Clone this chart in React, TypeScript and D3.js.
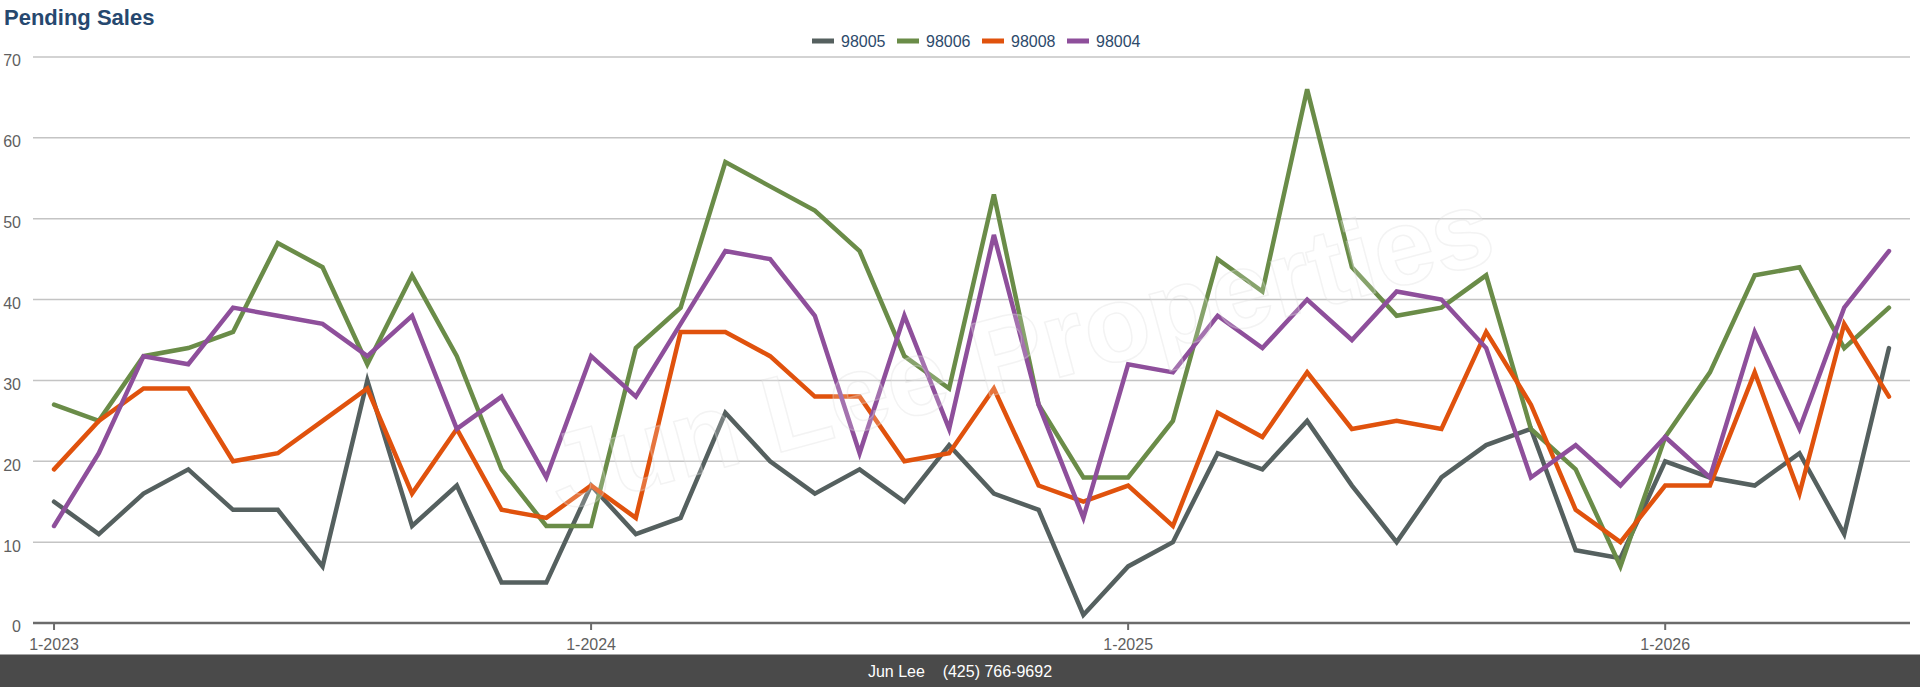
import * as d3 from 'd3';

const WIDTH = 1920;
const HEIGHT = 687;

// month categories, Jan 2023 .. Jun 2026
const MONTHS = [
  '1-2023', '2-2023', '3-2023', '4-2023', '5-2023', '6-2023', '7-2023', '8-2023', '9-2023', '10-2023', '11-2023', '12-2023',
  '1-2024', '2-2024', '3-2024', '4-2024', '5-2024', '6-2024', '7-2024', '8-2024', '9-2024', '10-2024', '11-2024', '12-2024',
  '1-2025', '2-2025', '3-2025', '4-2025', '5-2025', '6-2025', '7-2025', '8-2025', '9-2025', '10-2025', '11-2025', '12-2025',
  '1-2026', '2-2026', '3-2026', '4-2026', '5-2026', '6-2026',
];
const TICK_LABELS = ['1-2023', '1-2024', '1-2025', '1-2026'];
const Y_TICKS = [0, 10, 20, 30, 40, 50, 60, 70];

const ZIP_98005 = [
  15, 11, 16, 19, 14, 14, 7, 30, 12, 17, 5, 5,
  17, 11, 13, 26, 20, 16, 19, 15, 22, 16, 14, 1,
  7, 10, 21, 19, 25, 17, 10, 18, 22, 24, 9, 8,
  20, 18, 17, 21, 11, 34,
];
const ZIP_98006 = [
  27, 25, 33, 34, 36, 47, 44, 32, 43, 33, 19, 12,
  12, 34, 39, 57, 54, 51, 46, 33, 29, 53, 27, 18,
  18, 25, 45, 41, 66, 44, 38, 39, 43, 24, 19, 7,
  23, 31, 43, 44, 34, 39,
];
const ZIP_98008 = [
  19, 25, 29, 29, 20, 21, 25, 29, 16, 24, 14, 13,
  17, 13, 36, 36, 33, 28, 28, 20, 21, 29, 17, 15,
  17, 12, 26, 23, 31, 24, 25, 24, 36, 27, 14, 10,
  17, 17, 31, 16, 37, 28,
];
const ZIP_98004 = [
  12, 21, 33, 32, 39, 38, 37, 33, 38, 24, 28, 18,
  33, 28, 37, 46, 45, 38, 21, 38, 24, 48, 27, 13,
  32, 31, 38, 34, 40, 35, 41, 40, 34, 18, 22, 17,
  23, 18, 36, 24, 39, 46,
];

const SERIES_NAMES = ['98005', '98006', '98008', '98004'];
const SERIES_COLORS = ['#55605f', '#6a8c48', '#e0520d', '#8e4f9b'];
const SERIES_VALUES = [ZIP_98005, ZIP_98006, ZIP_98008, ZIP_98004];

const FONT = '"Liberation Sans", Arial, sans-serif';

export default function App() {
  const plotLeft = 33;
  const plotRight = 1910;
  const plotTop = 57;
  const plotBottom = 623;

  const xScale = d3.scalePoint<string>().domain(MONTHS).range([plotLeft, plotRight]).padding(0.47);
  const yScale = d3.scaleLinear().domain([0, 70]).range([plotBottom, plotTop]);

  const lineBuilder = d3
    .line<number>()
    .x((_, i) => xScale(MONTHS[i]) ?? 0)
    .y((d) => yScale(d));

  return (
    <svg
      width={WIDTH}
      height={HEIGHT}
      style={{ position: 'absolute', left: 0, top: 0, background: '#fff' }}
      fontFamily={FONT}
    >
      {/* title */}
      <text x={4} y={25} fontSize={22} fontWeight="bold" fill="#26486f">
        Pending Sales
      </text>

      {/* legend */}
      {SERIES_NAMES.map((name, i) => (
        <g key={name} transform={`translate(${812 + i * 85},0)`}>
          <rect x={0} y={38.5} width={22} height={5} fill={SERIES_COLORS[i]} />
          <text x={29} y={46.5} fontSize={16} fill="#2d4a6b">
            {name}
          </text>
        </g>
      ))}

      {/* grid + y labels */}
      {Y_TICKS.filter((t) => t > 0).map((t) => (
        <line key={t} x1={plotLeft} x2={plotRight} y1={yScale(t)} y2={yScale(t)} stroke="#c4c4c4" strokeWidth={1.5} />
      ))}
      {Y_TICKS.map((t) => (
        <text key={t} x={21} y={yScale(t) + 9.4} textAnchor="end" fontSize={16} fill="#5f5f5f">
          {t}
        </text>
      ))}

      {/* x axis */}
      <line x1={plotLeft} x2={plotRight} y1={plotBottom} y2={plotBottom} stroke="#6b6b6b" strokeWidth={2.5} />
      {TICK_LABELS.map((label) => (
        <g key={label} transform={`translate(${xScale(label)},0)`}>
          <line y1={plotBottom} y2={plotBottom + 7} stroke="#6b6b6b" strokeWidth={2} />
          <text y={650} textAnchor="middle" fontSize={16} fill="#5f5f5f">
            {label}
          </text>
        </g>
      ))}

      {/* series */}
      {SERIES_VALUES.map((values, i) => (
        <path
          key={SERIES_NAMES[i]}
          d={lineBuilder(values) ?? ''}
          fill="none"
          stroke={SERIES_COLORS[i]}
          strokeWidth={4.5}
          strokeLinejoin="miter"
          strokeLinecap="round"
        />
      ))}

      {/* watermark */}
      <text
        transform="translate(1022,358) rotate(-15)"
        textAnchor="middle"
        dominantBaseline="middle"
        fontSize={108}
        fontWeight="bold"
        fill="#ffffff"
        fillOpacity={0.2}
        stroke="#dcdcdc"
        strokeOpacity={0.35}
        strokeWidth={1.5}
      >
        Jun Lee Properties
      </text>

      {/* footer */}
      <rect x={0} y={654.5} width={WIDTH} height={HEIGHT - 654.5} fill="#4a4a4a" />
      <text x={960} y={677} textAnchor="middle" fontSize={16} fill="#ffffff" style={{ whiteSpace: 'pre' }}>
        {'Jun Lee    (425) 766-9692'}
      </text>
    </svg>
  );
}
